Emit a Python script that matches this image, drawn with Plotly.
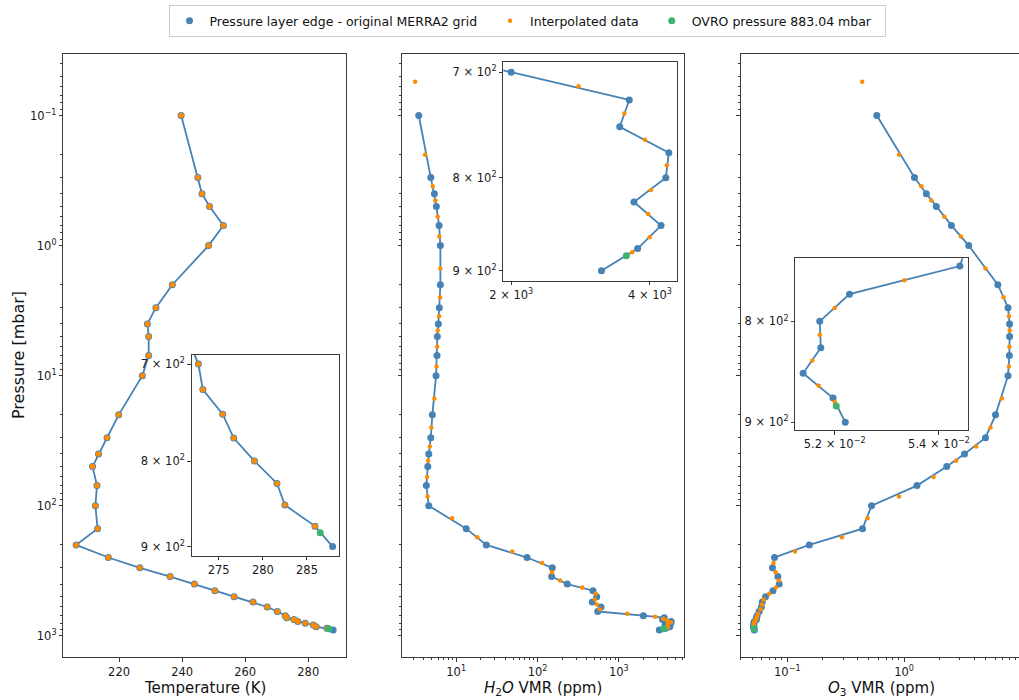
import numpy as np
import plotly.graph_objects as go

W, H = 1019, 700
FONT = "DejaVu Sans"
SPINE = "#3a3a3a"
BLUE, ORANGE, GREEN = "#4682B4", "#FF8C00", "#3CB371"

# ---------------------------------------------------------------- data
# MERRA2 pressure-level edges (mbar), down to the first level below the site
p_edge = [0.1, 0.3, 0.4, 0.5, 0.7, 1, 2, 3, 4, 5, 7, 10, 20, 30, 40, 50, 70, 100,
          150, 200, 250, 300, 350, 400, 450, 500, 550, 600, 650, 700, 725, 750,
          775, 800, 825, 850, 875, 900]
# layer mid-points used for the interpolated water vapour / ozone profiles
p_mid = [0.055, 0.2, 0.35, 0.45, 0.6, 0.85, 1.5, 2.5, 3.5, 4.5, 6, 8.5, 15, 25,
         35, 45, 60, 85, 125, 175, 225, 275, 325, 375, 425, 475, 525, 575, 625,
         675, 712.5, 737.5, 762.5, 787.5, 812.5, 837.5, 862.5, 879.02]
# temperature is interpolated on the edges above the site
p_temp_interp = [0.1, 0.3, 0.4, 0.5, 0.7, 1, 2, 3, 4, 5, 7, 10, 20, 30, 40, 50,
                 70, 100, 150, 200, 250, 300, 350, 400, 450, 500, 550, 600, 650,
                 700, 725, 750, 775, 800, 825, 850, 875]
p_ovro = 883.04

temp_grid = [239.7, 245.0, 246.3, 248.7, 253.1, 248.4, 236.9, 231.7, 229.0, 229.4,
             229.4, 227.4, 219.9, 216.2, 213.5, 211.6, 213.0, 212.5, 213.2, 206.4,
             216.6, 226.6, 236.2, 243.9, 250.4, 256.5, 262.5, 267.0, 270.2, 272.7,
             273.2, 275.45, 276.7, 279.05, 281.6, 282.5, 285.9, 287.9]
temp_interp = [239.7, 245.0, 246.3, 248.7, 253.1, 248.4, 236.9, 231.7, 229.0, 229.4,
               229.4, 227.4, 219.9, 216.2, 213.5, 211.6, 213.0, 212.5, 213.2, 206.4,
               216.6, 226.6, 236.2, 243.9, 250.4, 256.5, 262.5, 267.0, 270.2, 272.7,
               273.2, 275.45, 276.7, 279.05, 281.6, 282.5, 285.9]
temp_ovro = 286.5

h2o_grid = [3.47, 4.88, 5.40, 5.71, 6.17, 6.40, 6.40, 6.22, 6.04, 5.87, 5.82, 5.66,
            5.10, 4.88, 4.61, 4.48, 4.30, 4.61, 13.3, 23.5, 74.3, 152, 149, 232,
            481, 534, 471, 603, 549, 2000, 3608, 3440, 4396, 4331, 3693, 4229,
            3762, 3140]
h2o_interp = [3.13, 4.15, 5.16, 5.55, 5.94, 6.22, 6.40, 6.34, 6.17, 5.94, 5.85, 5.74,
              5.40, 4.96, 4.74, 4.52, 4.39, 4.45, 8.9, 18.2, 49, 114, 151, 189, 355,
              519, 508, 538, 581, 1268, 2800, 3520, 3900, 4353, 4021, 3967, 3994,
              3662]
h2o_ovro = 3555

o3_grid = [0.584, 1.227, 1.551, 1.887, 2.541, 3.572, 6.346, 7.754, 7.997, 7.997,
           7.962, 7.754, 6.061, 4.973, 3.287, 2.317, 1.289, 0.5265, 0.4408, 0.1545,
           0.0778, 0.0747, 0.0831, 0.0853, 0.0754, 0.0651, 0.0611, 0.0600, 0.0574,
           0.0552, 0.0546, 0.05441, 0.05228, 0.05172, 0.05174, 0.05141, 0.05197,
           0.05220]
o3_interp = [0.4377, 0.9054, 1.405, 1.712, 2.211, 3.059, 4.973, 7.103, 7.894, 7.997,
             7.962, 7.894, 6.864, 5.494, 4.139, 2.785, 1.788, 0.905, 0.4856, 0.2930,
             0.1164, 0.0763, 0.0794, 0.0850, 0.0799, 0.0700, 0.0628, 0.0610, 0.0591,
             0.0562, 0.0549, 0.0545, 0.05333, 0.05200, 0.05172, 0.05158, 0.05170,
             0.05200]
o3_ovro = 0.05203

NBSP = "\u00a0"
LEGEND_NAMES = ["Pressure layer edge - original MERRA2 grid" + NBSP * 2,
                "Interpolated data" + NBSP * 2,
                "OVRO pressure 883.04 mbar" + NBSP * 2]


# ---------------------------------------------------------------- helpers
def padded(lo, hi, log=False, frac=0.05):
    """Axis limits with a 5 % margin on either side of the data."""
    if log:
        lo, hi = np.log10(lo), np.log10(hi)
    span = hi - lo
    return [lo - frac * span, hi + frac * span]


def dom_x(a, b):
    return [a / W, min(b / W, 1.0)]


def dom_y(top, bottom):
    return [1 - bottom / H, 1 - top / H]


def sup(base, exp):
    return f"{base}<sup>{exp}</sup>"


def log_minor(lo_exp, hi_exp):
    return [m * 10.0 ** k for k in range(lo_exp, hi_exp + 1) for m in range(2, 10)]


def axis(**kw):
    base = dict(showline=True, linecolor=SPINE, linewidth=1, mirror=True,
                ticks="outside", ticklen=3.5, tickwidth=1, tickcolor=SPINE,
                showgrid=False, zeroline=False, automargin=False,
                tickfont=dict(family=FONT, size=11.5, color="#1a1a1a"))
    base.update(kw)
    return base


MINOR = dict(ticks="outside", ticklen=2, tickwidth=0.8, tickcolor=SPINE,
             showgrid=False, tickmode="array")

fig = go.Figure()


def add_profile(p_line, x_line, p_int, x_int, x_site, xa, ya,
                int_size, legend=False):
    fig.add_trace(go.Scatter(x=x_line, y=p_line, mode="lines",
                             line=dict(color=BLUE, width=1.8),
                             showlegend=False, hoverinfo="skip",
                             xaxis=xa, yaxis=ya))
    fig.add_trace(go.Scatter(x=x_line, y=p_line, mode="markers",
                             marker=dict(color=BLUE, size=7),
                             name=LEGEND_NAMES[0], showlegend=legend,
                             xaxis=xa, yaxis=ya))
    fig.add_trace(go.Scatter(x=x_int, y=p_int, mode="markers",
                             marker=dict(color=ORANGE, size=int_size),
                             name=LEGEND_NAMES[1], showlegend=legend,
                             xaxis=xa, yaxis=ya))
    fig.add_trace(go.Scatter(x=[x_site], y=[p_ovro], mode="markers",
                             marker=dict(color=GREEN, size=7),
                             name=LEGEND_NAMES[2], showlegend=legend,
                             xaxis=xa, yaxis=ya))


# main panels
add_profile(p_edge, temp_grid, p_temp_interp, temp_interp, temp_ovro, "x", "y", 5.5)
add_profile(p_edge, h2o_grid, p_mid, h2o_interp, h2o_ovro, "x2", "y2", 4.5, legend=True)
add_profile(p_edge, o3_grid, p_mid, o3_interp, o3_ovro, "x3", "y3", 4.5)
# zoomed insets around the site pressure
add_profile(p_edge, temp_grid, p_temp_interp, temp_interp, temp_ovro, "x4", "y4", 5.5)
add_profile(p_edge, h2o_grid, p_mid, h2o_interp, h2o_ovro, "x5", "y5", 4.5)
add_profile(p_edge, o3_grid, p_mid, o3_interp, o3_ovro, "x6", "y6", 4.5)

# ---------------------------------------------------------------- ranges
all_p = p_edge + p_mid
y_main = padded(min(all_p), max(all_p), log=True)[::-1]

x_temp = padded(min(temp_grid), max(temp_grid))
x_h2o = padded(min(h2o_grid + h2o_interp), max(h2o_grid + h2o_interp), log=True)
x_o3_full = padded(min(o3_grid + o3_interp), max(o3_grid + o3_interp), log=True)
panel_w = 281.7
o3_left_px = 740.7
ppu = panel_w / (x_o3_full[1] - x_o3_full[0])
x_o3 = [x_o3_full[0], x_o3_full[0] + (W - o3_left_px) / ppu]


def window(p, v, lo, hi):
    return [vv for pp, vv in zip(p, v) if lo <= pp <= hi]


t_zoom = window(p_edge, temp_grid, 700, 900)
x_temp_in = padded(min(t_zoom), max(t_zoom))
h_zoom = window(p_edge, h2o_grid, 700, 900) + window(p_mid, h2o_interp, 700, 900)
x_h2o_in = padded(min(h_zoom), max(h_zoom), log=True)
o_zoom = window(p_edge, o3_grid, 750, 900) + window(p_mid, o3_interp, 750, 900)
x_o3_in = padded(min(o_zoom), max(o_zoom), log=True)
y_in = padded(700, 900, log=True)[::-1]
y_in_o3 = padded(750, 900, log=True)[::-1]

# ---------------------------------------------------------------- axes
main_top, main_bottom = 54.3, 657.3
y_ticks = [0.1, 1, 10, 100, 1000]
y_text = [sup(10, "\u22121"), sup(10, 0), sup(10, 1), sup(10, 2), sup(10, 3)]
y_minor = dict(MINOR, tickvals=log_minor(-2, 3))
hundreds = ["7 \u00d7 " + sup(10, 2), "8 \u00d7 " + sup(10, 2), "9 \u00d7 " + sup(10, 2)]

fig.update_layout(
    xaxis=axis(domain=dom_x(63.3, 346.0), range=x_temp, anchor="y",
               tickmode="array", tickvals=[220, 240, 260, 280]),
    yaxis=axis(domain=dom_y(main_top, main_bottom), type="log", range=y_main,
               anchor="x", tickmode="array", tickvals=y_ticks, ticktext=y_text,
               minor=y_minor),
    xaxis2=axis(domain=dom_x(402.3, 684.0), type="log", range=x_h2o, anchor="y2",
                tickmode="array", tickvals=[10, 100, 1000],
                ticktext=[sup(10, 1), sup(10, 2), sup(10, 3)],
                minor=dict(MINOR, tickvals=log_minor(0, 3))),
    yaxis2=axis(domain=dom_y(main_top, main_bottom), type="log", range=y_main,
                anchor="x2", tickmode="array", tickvals=y_ticks,
                showticklabels=False, minor=y_minor),
    xaxis3=axis(domain=dom_x(o3_left_px, W), type="log", range=x_o3, anchor="y3",
                tickmode="array", tickvals=[0.1, 1],
                ticktext=[sup(10, "\u22121"), sup(10, 0)],
                minor=dict(MINOR, tickvals=log_minor(-2, 1))),
    yaxis3=axis(domain=dom_y(main_top, main_bottom), type="log", range=y_main,
                anchor="x3", mirror=False, tickmode="array", tickvals=y_ticks,
                showticklabels=False, minor=y_minor),
    # insets
    xaxis4=axis(domain=dom_x(191.7, 339.3), range=x_temp_in, anchor="y4",
                tickmode="array", tickvals=[275, 280, 285]),
    yaxis4=axis(domain=dom_y(355.0, 555.7), type="log", range=y_in, anchor="x4",
                tickmode="array", tickvals=[700, 800, 900], ticktext=hundreds),
    xaxis5=axis(domain=dom_x(503.3, 676.7), type="log", range=x_h2o_in, anchor="y5",
                tickmode="array", tickvals=[2000, 4000],
                ticktext=["2 \u00d7 " + sup(10, 3), "4 \u00d7 " + sup(10, 3)]),
    yaxis5=axis(domain=dom_y(62.3, 280.7), type="log", range=y_in, anchor="x5",
                tickmode="array", tickvals=[700, 800, 900], ticktext=hundreds),
    xaxis6=axis(domain=dom_x(795.3, 967.7), type="log", range=x_o3_in, anchor="y6",
                tickmode="array", tickvals=[0.052, 0.054],
                ticktext=["5.2 \u00d7 " + sup(10, "\u22122"),
                          "5.4 \u00d7 " + sup(10, "\u22122")]),
    yaxis6=axis(domain=dom_y(258.3, 430.0), type="log", range=y_in_o3, anchor="x6",
                tickmode="array", tickvals=[800, 900], ticktext=hundreds[1:]),
)

# axis titles
title_font = dict(family=FONT, size=15, color="#111111")
for label, cx in [("Temperature (K)", (63.3 + 346.0) / 2),
                  ("<i>H</i><sub>2</sub><i>O</i> VMR (ppm)", (402.3 + 684.0) / 2),
                  ("<i>O</i><sub>3</sub> VMR (ppm)", (740.7 + 1022.4) / 2)]:
    fig.add_annotation(text=label, x=cx / W, y=1 - 688 / H, xref="paper",
                       yref="paper", xanchor="center", yanchor="middle",
                       showarrow=False, font=title_font)
fig.add_annotation(text="Pressure [mbar]", x=18 / W, y=1 - 355 / H, xref="paper",
                   yref="paper", xanchor="center", yanchor="middle",
                   textangle=-90, showarrow=False,
                   font=dict(family=FONT, size=16, color="#111111"))

fig.update_layout(
    width=W, height=H,
    margin=dict(l=0, r=0, t=0, b=0, autoexpand=False),
    paper_bgcolor="white", plot_bgcolor="white",
    font=dict(family=FONT, color="#222222"),
    showlegend=True,
    legend=dict(orientation="h", x=527 / W, y=1 - 5 / H, xanchor="center",
                yanchor="top", bordercolor="#cccccc", borderwidth=1,
                bgcolor="white", font=dict(family=FONT, size=12.5, color="#111111")),
)

fig.write_html("out.html")
